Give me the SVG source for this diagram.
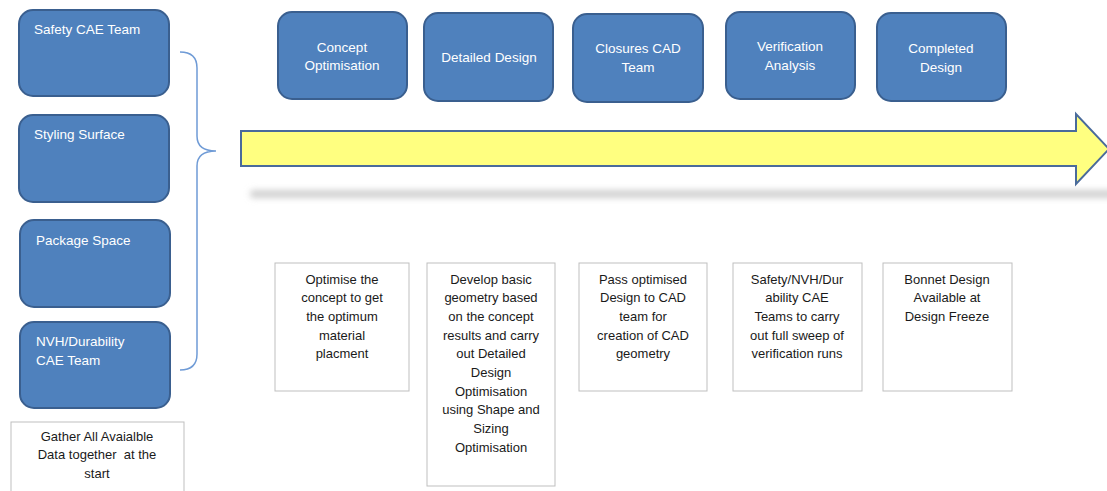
<svg xmlns="http://www.w3.org/2000/svg" width="1107" height="491" viewBox="0 0 1107 491">
<style>
.blue{fill:#4f81bd;stroke:#3a5f8f;stroke-width:2}
.wt{fill:#ffffff;font-family:"Liberation Sans",Arial,sans-serif;font-size:13.5px}
.wc{fill:#ffffff;font-family:"Liberation Sans",Arial,sans-serif;font-size:13.5px;text-anchor:middle}
.box{fill:#ffffff;stroke:#bfbfbf;stroke-width:1}
.bt{fill:#1a1a1a;font-family:"Liberation Sans",Arial,sans-serif;font-size:13px;text-anchor:middle}
</style>
<defs>
<filter id="blur" x="-5%" y="-200%" width="110%" height="500%"><feGaussianBlur stdDeviation="3"/></filter>
</defs>
<rect width="1107" height="491" fill="#ffffff"/>
<g id="shadow">
<rect x="250" y="190" width="870" height="8" rx="4" fill="#d0d0d0" filter="url(#blur)"/>
</g>
<g id="connectors">
<path d="M180,52 Q197,52 197,68 L197,136 Q197,151 216,151 Q197,151 197,166 L197,354 Q197,370 180,370" fill="none" stroke="#6f9bd6" stroke-width="1.5"/>
<path d="M241,131 L1076,131 L1076,114 L1109,149 L1076,184 L1076,166 L241,166 Z" fill="#ffff80" stroke="#4a6b9b" stroke-width="2"/>
</g>
<g id="safety"><rect class="blue" x="19" y="10" width="150" height="86" rx="14"/><text class="wt" x="34" y="34">Safety CAE Team</text></g>
<g id="styling"><rect class="blue" x="19" y="115" width="150" height="87" rx="14"/><text class="wt" x="34" y="139">Styling Surface</text></g>
<g id="package"><rect class="blue" x="20" y="220" width="150" height="87" rx="14"/><text class="wt" x="36" y="245">Package Space</text></g>
<g id="nvh"><rect class="blue" x="20" y="322" width="150" height="86" rx="14"/><text class="wt" x="36" y="346">NVH/Durability</text><text class="wt" x="36" y="365">CAE Team</text></g>
<g id="gather"><rect class="box" x="11" y="422" width="173" height="75"/><text class="bt" x="97" y="441">Gather All Avaialble</text><text class="bt" x="97" y="459">Data together&#160; at the</text><text class="bt" x="97" y="478">start</text></g>
<g id="concept"><rect class="blue" x="278" y="12" width="129" height="87" rx="14"/><text class="wc" x="342" y="52">Concept</text><text class="wc" x="342" y="70">Optimisation</text></g>
<g id="detailed"><rect class="blue" x="424" y="13" width="129" height="88" rx="14"/><text class="wc" x="489" y="62">Detailed Design</text></g>
<g id="closures"><rect class="blue" x="573" y="14" width="130" height="88" rx="14"/><text class="wc" x="638" y="53">Closures CAD</text><text class="wc" x="638" y="72">Team</text></g>
<g id="verification"><rect class="blue" x="726" y="12" width="129" height="87" rx="14"/><text class="wc" x="790" y="51">Verification</text><text class="wc" x="790" y="70">Analysis</text></g>
<g id="completed"><rect class="blue" x="877" y="13" width="129" height="88" rx="14"/><text class="wc" x="941" y="53">Completed</text><text class="wc" x="941" y="72">Design</text></g>
<g id="desc1"><rect class="box" x="275" y="263" width="134" height="128"/>
<text class="bt" x="342" y="284">Optimise the</text><text class="bt" x="342" y="302">concept to get</text><text class="bt" x="342" y="321">the optimum</text><text class="bt" x="342" y="340">material</text><text class="bt" x="342" y="358">placment</text></g>
<g id="desc2"><rect class="box" x="427" y="263" width="128" height="223"/>
<text class="bt" x="491" y="284">Develop basic</text><text class="bt" x="491" y="302">geometry based</text><text class="bt" x="491" y="321">on the concept</text><text class="bt" x="491" y="340">results and carry</text><text class="bt" x="491" y="358">out Detailed</text><text class="bt" x="491" y="377">Design</text><text class="bt" x="491" y="396">Optimisation</text><text class="bt" x="491" y="414">using Shape and</text><text class="bt" x="491" y="433">Sizing</text><text class="bt" x="491" y="452">Optimisation</text></g>
<g id="desc3"><rect class="box" x="579" y="263" width="128" height="128"/>
<text class="bt" x="643" y="284">Pass optimised</text><text class="bt" x="643" y="302">Design to CAD</text><text class="bt" x="643" y="321">team for</text><text class="bt" x="643" y="340">creation of CAD</text><text class="bt" x="643" y="358">geometry</text></g>
<g id="desc4"><rect class="box" x="733" y="263" width="129" height="128"/>
<text class="bt" x="797" y="284">Safety/NVH/Dur</text><text class="bt" x="797" y="302">ability CAE</text><text class="bt" x="797" y="321">Teams to carry</text><text class="bt" x="797" y="340">out full sweep of</text><text class="bt" x="797" y="358">verification runs</text></g>
<g id="desc5"><rect class="box" x="883" y="263" width="129" height="128"/>
<text class="bt" x="947" y="284">Bonnet Design</text><text class="bt" x="947" y="302">Available at</text><text class="bt" x="947" y="321">Design Freeze</text></g>
</svg>
